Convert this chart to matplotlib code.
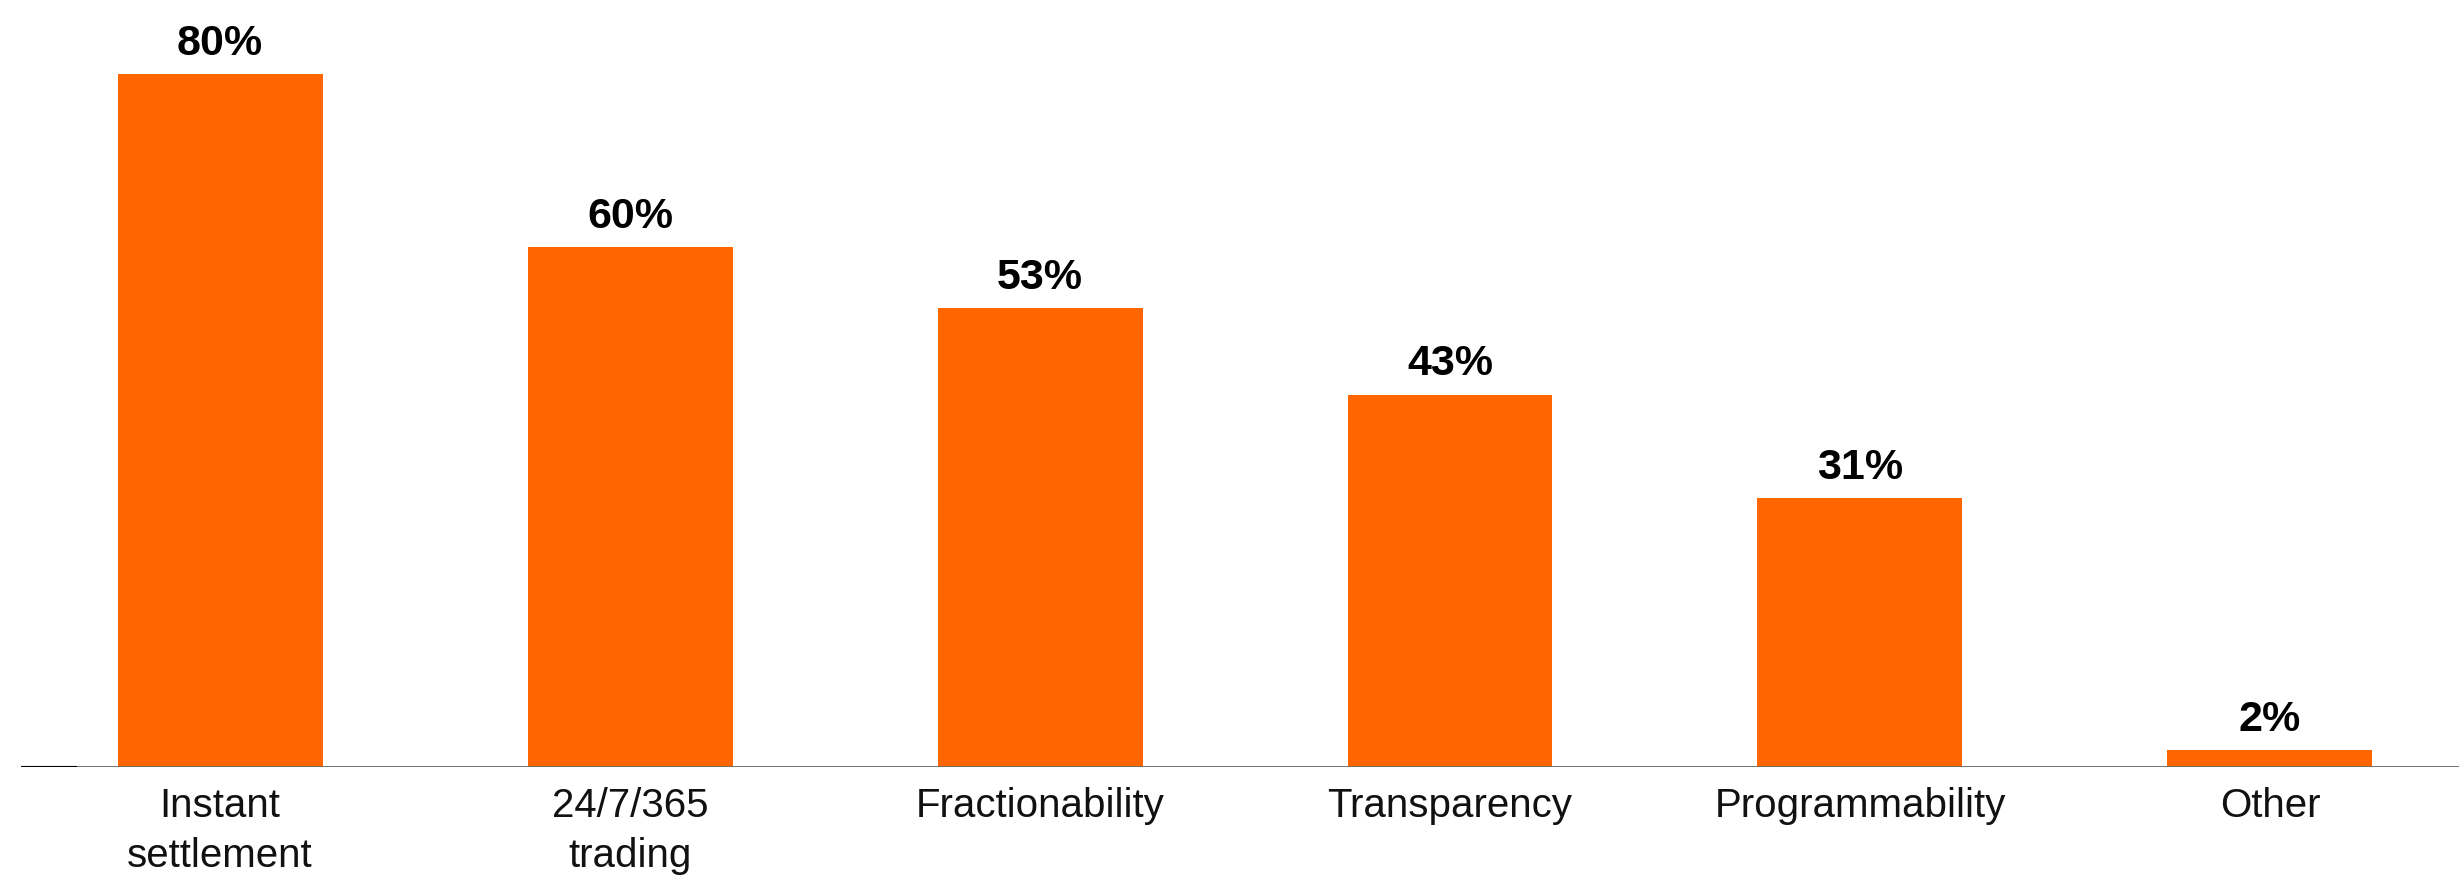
import matplotlib
matplotlib.use("Agg")
import matplotlib.pyplot as plt

categories = ["Instant\nsettlement", "24/7/365\ntrading", "Fractionability",
              "Transparency", "Programmability", "Other"]
values = [80, 60, 53, 43, 31, 2]
value_labels = ["80%", "60%", "53%", "43%", "31%", "2%"]

BAR_COLOR = "#FF6600"
FONT = ["Liberation Sans", "DejaVu Sans"]

W, H, DPI = 2459, 879, 100
fig = plt.figure(figsize=(W / DPI, H / DPI), dpi=DPI)
fig.patch.set_facecolor("white")

ax_left = 21 / W
ax_bottom = 1 - 768 / H
ax = fig.add_axes([ax_left, ax_bottom, 1 - ax_left, 1 - ax_bottom])

x = list(range(len(categories)))
bars = ax.bar(x, values, width=0.5, color=BAR_COLOR, zorder=2)

ax.set_xlim(-0.4854, 5.461)
ax.set_ylim(0, 88.66)

for sp in ax.spines.values():
    sp.set_visible(False)

# baseline: grey rule with a short dark lead-in on the left
ax.axhline(0, color="#6a6a6a", lw=1.3, zorder=3)
ax.axhline(0, xmin=0, xmax=(76 - 21) / (W - 21), color="black", lw=1.5, zorder=4)

ax.set_yticks([])
ax.set_xticks(x)
ax.set_xticklabels(categories, fontsize=29, family=FONT, color="#111111",
                   linespacing=1.38)
ax.tick_params(axis="x", length=0, pad=14)

ax.bar_label(bars, labels=value_labels, padding=8, fontsize=31,
             fontweight="bold", family=FONT, color="black")

fig.savefig("out.png", dpi=DPI, facecolor="white")
